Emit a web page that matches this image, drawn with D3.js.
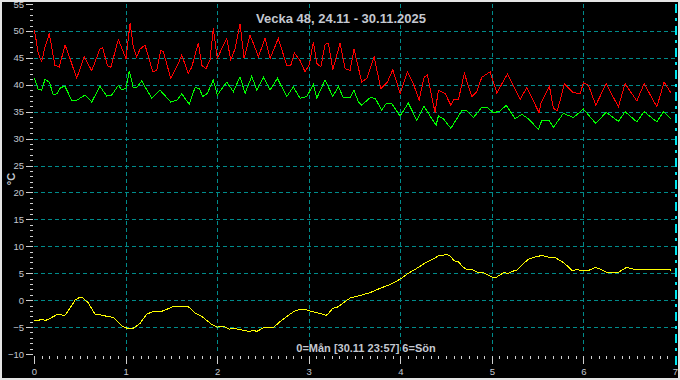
<!DOCTYPE html>
<html>
<head>
<meta charset="utf-8">
<script src="https://cdn.jsdelivr.net/npm/d3@7"></script>
<style>
  html, body { margin: 0; padding: 0; background: #000; }
  svg { display: block; }
  text { font-family: Arial, "Liberation Sans", sans-serif; }
</style>
</head>
<body>
<svg id="chart" width="680" height="380"></svg>
<script>
// labels and ticks
const title     = 'Vecka 48, 24.11 - 30.11.2025'
const footer    = '0=Mån [30.11 23:57] 6=Sön'
const yLabel    = '°C'
const dayTicks  = [0, 1, 2, 3, 4, 5, 6, 7]
const tempTicks = [-10, -5, 0, 5, 10, 15, 20, 25, 30, 35, 40, 45, 50, 55]
const nowDay    = 6 + (23 + 57 / 60) / 24

// [day (0=Mån), °C]
const tempRed = [
  [0.003, 50.1], [0.022, 48.4], [0.047, 45.8], [0.084, 44.3], [0.120, 47.0], [0.167, 49.5],
  [0.211, 45.2], [0.229, 43.6], [0.276, 43.3], [0.339, 47.4], [0.393, 44.9], [0.466, 41.2],
  [0.549, 45.2], [0.630, 42.6], [0.721, 46.7], [0.750, 46.9], [0.801, 43.6], [0.838, 43.2],
  [0.921, 48.4], [1.005, 44.8], [1.049, 51.4], [1.085, 47.0], [1.122, 45.2], [1.158, 46.6],
  [1.212, 47.4], [1.297, 42.4], [1.340, 42.7], [1.384, 46.4], [1.413, 46.1], [1.493, 41.2],
  [1.559, 43.3], [1.613, 45.5], [1.685, 42.1], [1.723, 43.3], [1.795, 47.8], [1.832, 43.6],
  [1.879, 43.0], [1.922, 44.6], [1.958, 50.5], [2.002, 44.9], [2.050, 46.7], [2.105, 48.6],
  [2.149, 44.6], [2.196, 46.7], [2.250, 51.3], [2.294, 44.9], [2.359, 49.2], [2.403, 47.4],
  [2.450, 45.2], [2.523, 48.6], [2.578, 44.9], [2.668, 48.6], [2.760, 43.6], [2.804, 43.6],
  [2.843, 45.9], [2.906, 44.5], [2.960, 42.4], [3.007, 43.8], [3.051, 48.0], [3.088, 44.0],
  [3.132, 43.3], [3.179, 47.5], [3.215, 47.7], [3.263, 42.8], [3.342, 47.7], [3.397, 43.0],
  [3.452, 42.7], [3.495, 46.6], [3.579, 40.5], [3.634, 41.2], [3.714, 45.2], [3.787, 39.3],
  [3.859, 40.5], [3.918, 42.8], [3.998, 38.4], [4.078, 42.4], [4.143, 40.2], [4.205, 37.1],
  [4.260, 41.4], [4.296, 41.8], [4.380, 34.8], [4.416, 39.0], [4.489, 38.4], [4.552, 36.2],
  [4.588, 37.3], [4.635, 37.3], [4.700, 42.1], [4.781, 37.8], [4.835, 38.7], [4.890, 41.4],
  [4.981, 42.4], [5.054, 38.5], [5.170, 42.0], [5.309, 37.3], [5.382, 39.5], [5.516, 34.8],
  [5.535, 36.5], [5.629, 39.7], [5.672, 35.6], [5.716, 35.2], [5.792, 40.2], [5.884, 38.6],
  [5.964, 38.3], [6.000, 40.4], [6.055, 39.9], [6.135, 36.2], [6.248, 40.2], [6.382, 35.9],
  [6.455, 40.2], [6.583, 37.0], [6.663, 40.2], [6.802, 35.9], [6.881, 40.5], [6.955, 38.5]
]

const tempGreen = [
  [0.003, 41.2], [0.047, 39.1], [0.084, 39.0], [0.120, 41.0], [0.167, 40.5], [0.211, 38.1],
  [0.248, 38.3], [0.292, 39.5], [0.339, 39.7], [0.412, 37.1], [0.466, 37.1], [0.557, 38.1],
  [0.630, 36.8], [0.721, 39.7], [0.794, 37.9], [0.849, 38.1], [0.921, 39.9], [0.961, 39.0],
  [1.005, 39.4], [1.041, 42.6], [1.085, 39.4], [1.128, 39.6], [1.176, 40.7], [1.286, 37.5],
  [1.376, 39.0], [1.493, 36.8], [1.559, 37.1], [1.613, 38.3], [1.696, 36.4], [1.759, 39.5],
  [1.806, 39.3], [1.843, 37.8], [1.893, 38.4], [1.958, 40.9], [2.002, 38.1], [2.105, 40.5],
  [2.177, 38.7], [2.250, 41.5], [2.305, 38.4], [2.378, 41.6], [2.433, 39.0], [2.505, 41.4],
  [2.578, 39.0], [2.658, 41.2], [2.760, 37.8], [2.832, 39.6], [2.906, 37.5], [2.979, 37.8],
  [3.051, 40.1], [3.088, 37.5], [3.179, 40.9], [3.263, 37.8], [3.324, 39.7], [3.378, 37.6],
  [3.452, 37.6], [3.495, 39.0], [3.542, 36.8], [3.579, 36.2], [3.670, 37.6], [3.725, 37.5],
  [3.798, 35.3], [3.845, 36.5], [3.907, 36.5], [3.998, 34.2], [4.088, 36.6], [4.180, 33.4],
  [4.260, 36.0], [4.344, 33.7], [4.391, 32.5], [4.416, 34.2], [4.471, 33.7], [4.552, 31.9],
  [4.672, 35.2], [4.726, 35.2], [4.798, 33.9], [4.890, 35.8], [4.951, 35.8], [5.017, 34.8],
  [5.090, 35.1], [5.156, 36.2], [5.254, 33.7], [5.327, 34.5], [5.399, 33.7], [5.508, 31.7],
  [5.546, 33.4], [5.629, 33.3], [5.672, 32.1], [5.782, 34.7], [5.891, 33.9], [6.000, 35.5],
  [6.135, 32.8], [6.248, 34.9], [6.382, 33.2], [6.455, 35.0], [6.583, 33.1], [6.663, 35.0],
  [6.802, 33.1], [6.874, 35.0], [6.955, 33.7]
]

const tempYellow = [
  [0.000, -3.7], [0.047, -3.8], [0.084, -3.5], [0.120, -3.8], [0.175, -3.4], [0.248, -2.7],
  [0.339, -2.8], [0.393, -1.5], [0.448, 0.0], [0.495, 0.5], [0.532, 0.4], [0.593, -0.5],
  [0.666, -2.6], [0.721, -2.7], [0.794, -3.0], [0.866, -3.2], [0.958, -4.8], [1.013, -5.2],
  [1.078, -5.3], [1.158, -4.3], [1.231, -2.6], [1.303, -2.1], [1.376, -2.2], [1.449, -1.7],
  [1.522, -1.2], [1.685, -1.2], [1.759, -2.4], [1.832, -3.0], [1.941, -4.5], [2.002, -5.0],
  [2.061, -4.8], [2.133, -5.4], [2.177, -5.2], [2.286, -5.6], [2.352, -5.8], [2.395, -5.6],
  [2.433, -5.8], [2.523, -5.0], [2.614, -5.1], [2.687, -4.0], [2.778, -2.8], [2.851, -2.0],
  [2.906, -1.7], [2.960, -1.7], [3.015, -2.0], [3.105, -2.4], [3.190, -2.8], [3.215, -2.5],
  [3.263, -1.5], [3.306, -1.4], [3.378, -0.5], [3.452, 0.4], [3.525, 0.7], [3.670, 1.4],
  [3.779, 2.2], [3.889, 2.9], [3.998, 3.9], [4.088, 5.0], [4.180, 5.9], [4.271, 6.9],
  [4.362, 7.7], [4.416, 8.2], [4.508, 8.5], [4.544, 8.2], [4.588, 7.3], [4.635, 7.1],
  [4.689, 6.1], [4.726, 5.7], [4.798, 5.6], [4.853, 5.1], [4.908, 5.1], [4.999, 4.3],
  [5.054, 4.3], [5.126, 5.1], [5.181, 5.0], [5.235, 5.4], [5.273, 5.6], [5.327, 6.5],
  [5.399, 7.6], [5.472, 8.0], [5.546, 8.3], [5.618, 8.0], [5.691, 7.9], [5.764, 7.2],
  [5.836, 6.2], [5.884, 5.4], [5.920, 5.7], [5.983, 5.5], [6.055, 5.5], [6.128, 6.1],
  [6.183, 5.8], [6.248, 5.2], [6.382, 5.2], [6.474, 6.1], [6.529, 5.8], [6.655, 5.6],
  [6.685, 5.7], [6.947, 5.7], [6.958, 5.4]
]

const
  width     = 680,
  height    = 380,
  textColor = '#c4c8d0',
  gridColor = '#008b8b',
  svg       = d3.select('#chart'),
  x         = d3.scaleLinear().domain([0, 7]).range([34, 675]),
  y         = d3.scaleLinear().domain([-10, 55]).range([354, 4]),
  crisp     = v => Math.round(v) + 0.5

svg.append('rect')
  .attr('width', width)
  .attr('height', height)
  .attr('fill', '#000')

// dashed grid
svg.append('g')
  .selectAll('line')
  .data(tempTicks.filter(t => t > -10 && t < 55))
  .join('line')
  .attr('x1', x(0))
  .attr('x2', x(7))
  .attr('y1', d => crisp(y(d)))
  .attr('y2', d => crisp(y(d)))
  .attr('stroke', gridColor)
  .attr('stroke-dasharray', '4,3')
  .attr('shape-rendering', 'crispEdges')

svg.append('g')
  .selectAll('line')
  .data(dayTicks.filter(d => d > 0 && d < 7))
  .join('line')
  .attr('x1', d => crisp(x(d)))
  .attr('x2', d => crisp(x(d)))
  .attr('y1', y(55))
  .attr('y2', y(-10))
  .attr('stroke', gridColor)
  .attr('stroke-dasharray', '4,3')
  .attr('shape-rendering', 'crispEdges')

// axes
function styleAxis(g)
{
  g.select('.domain').remove()
  g.selectAll('line').attr('stroke', '#d0d0d0').attr('shape-rendering', 'crispEdges')
  g.selectAll('text').attr('fill', textColor).attr('font-size', 9.5)
}

svg.append('g')
  .attr('transform', 'translate(33,0)')
  .call(d3.axisLeft(y).tickValues(d3.range(-10, 56)).tickSize(3).tickFormat(''))
  .call(styleAxis)

svg.append('g')
  .attr('transform', 'translate(33,0)')
  .call(d3.axisLeft(y).tickValues(tempTicks).tickSize(7).tickPadding(2))
  .call(styleAxis)

svg.append('g')
  .attr('transform', 'translate(0,356)')
  .call(d3.axisBottom(x).tickValues(d3.range(0, 85).map(i => i / 12)).tickSize(3).tickFormat(''))
  .call(styleAxis)

svg.append('g')
  .attr('transform', 'translate(0,356)')
  .call(d3.axisBottom(x).tickValues(dayTicks).tickSize(8).tickPadding(4).tickFormat(d3.format('d')))
  .call(styleAxis)

// now marker
svg.append('line')
  .attr('x1', crisp(x(nowDay)))
  .attr('x2', crisp(x(nowDay)))
  .attr('y1', y(55))
  .attr('y2', 365)
  .attr('stroke', '#00e5ee')
  .attr('stroke-width', 2)
  .attr('stroke-dasharray', '9,5,3,5')
  .attr('shape-rendering', 'crispEdges')

// series
const line = d3.line()
  .x(d => x(d[0]))
  .y(d => y(d[1]))

const series = [
  [tempRed,    '#ff0000'],
  [tempGreen,  '#00ff00'],
  [tempYellow, '#ffff00']
]

series.forEach(([data, color]) =>
{
  svg.append('path')
    .datum(data)
    .attr('d', line)
    .attr('fill', 'none')
    .attr('stroke', color)
    .attr('stroke-width', 1)
    .attr('shape-rendering', 'crispEdges')
})

// texts
svg.append('text')
  .attr('x', 341)
  .attr('y', 23)
  .attr('text-anchor', 'middle')
  .attr('font-size', 13)
  .attr('font-weight', 'bold')
  .attr('fill', textColor)
  .text(title)

svg.append('text')
  .attr('x', 366)
  .attr('y', 352)
  .attr('text-anchor', 'middle')
  .attr('font-size', 11)
  .attr('font-weight', 'bold')
  .attr('fill', textColor)
  .text(footer)

svg.append('text')
  .attr('transform', 'translate(15,179) rotate(-90)')
  .attr('text-anchor', 'middle')
  .attr('font-size', 11)
  .attr('font-weight', 'bold')
  .attr('fill', textColor)
  .text(yLabel)

// frame
svg.append('rect')
  .attr('x', 1)
  .attr('y', 1)
  .attr('width', width - 2)
  .attr('height', height - 2)
  .attr('fill', 'none')
  .attr('stroke', '#e4e4e4')
  .attr('stroke-width', 2)
</script>
</body>
</html>
